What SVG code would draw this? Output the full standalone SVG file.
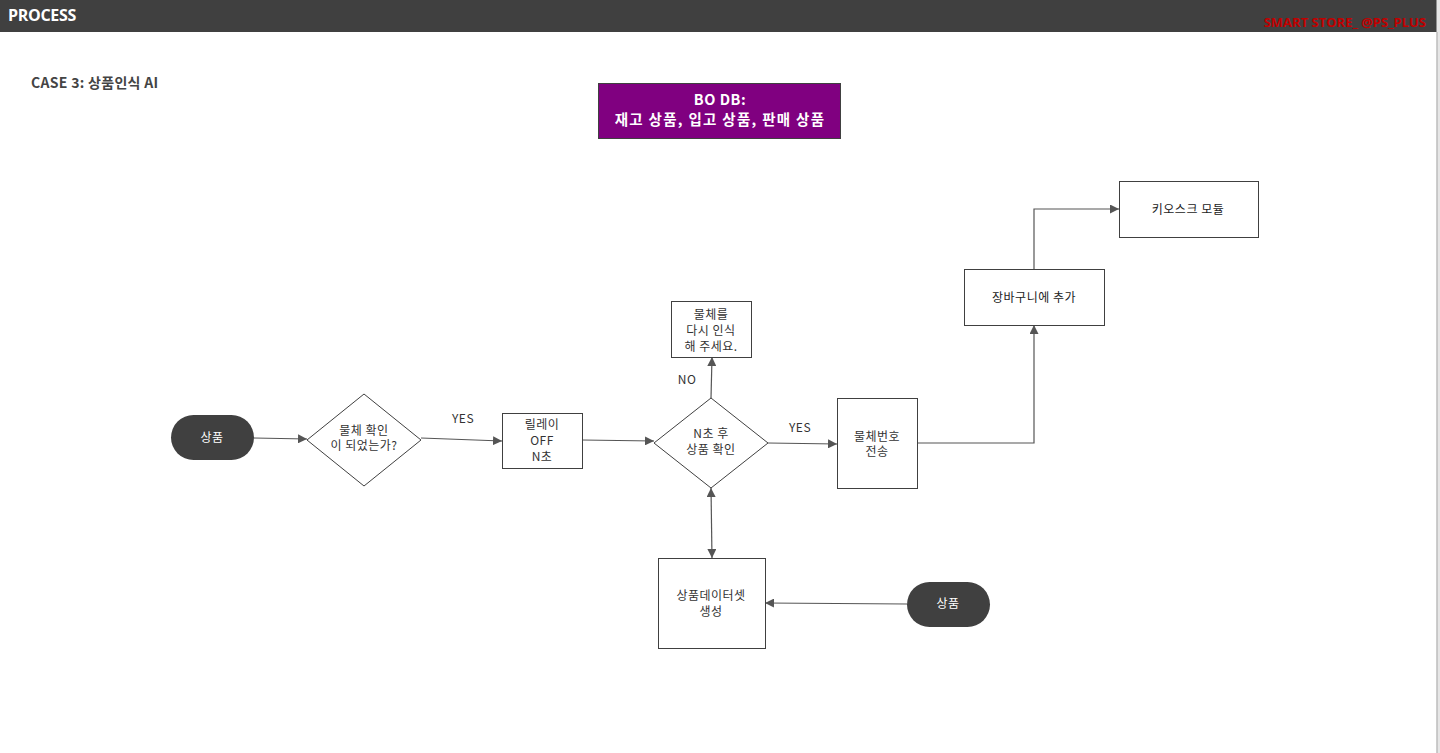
<svg xmlns="http://www.w3.org/2000/svg" width="1440" height="753" viewBox="0 0 1440 753">
<defs>
<style>
.t{font-family:"Noto Sans CJK KR","Noto Sans",sans-serif;font-size:12px;fill:#333;text-anchor:middle;letter-spacing:0.5px}
.w{fill:#fff}
.b{font-weight:bold}
.d{fill:#222}
.box{fill:#fff;stroke:#404040;stroke-width:1}
.term{fill:#404040}
.c{fill:none;stroke:#555;stroke-width:1.2}
</style>
<marker id="ah" viewBox="0 0 10 10" refX="10" refY="5" markerWidth="9" markerHeight="9" markerUnits="userSpaceOnUse" orient="auto-start-reverse">
<path d="M0,0 L10,5 L0,10 Z" fill="#555"/>
</marker>
</defs>
<rect x="0" y="0" width="1440" height="753" fill="#fff"/>
<g id="header">
<rect x="0" y="0" width="1437" height="32" fill="#404040"/>
<text x="8" y="21" font-family="'Open Sans','Noto Sans',sans-serif" font-size="16" font-weight="bold" fill="#fff" letter-spacing="-0.3">PROCESS</text>
<text x="1426" y="27" font-family="'Open Sans','Noto Sans',sans-serif" font-size="13" font-weight="bold" fill="#c00000" text-anchor="end" letter-spacing="0">SMART STORE_ @PS_PLUS</text>
<rect x="1436.5" y="0" width="3.5" height="753" fill="#e6e6e6"/>
<line x1="1437" y1="32" x2="1437" y2="753" stroke="#a8a8a8" stroke-width="1"/>
</g>
<text x="31" y="88" font-family="'Noto Sans CJK KR','Noto Sans',sans-serif" font-size="14" font-weight="bold" fill="#444" letter-spacing="0.3">CASE 3: 상품인식 AI</text>
<g id="connectors">
<line class="c" x1="254" y1="438" x2="307" y2="439" marker-end="url(#ah)"/>
<line class="c" x1="421" y1="438" x2="502" y2="441" marker-end="url(#ah)"/>
<line class="c" x1="582" y1="440" x2="654" y2="441" marker-end="url(#ah)"/>
<line class="c" x1="711" y1="398" x2="712" y2="357" marker-end="url(#ah)"/>
<line class="c" x1="768" y1="443" x2="837" y2="444" marker-end="url(#ah)"/>
<polyline class="c" points="917,443 1034,443 1034,325" marker-end="url(#ah)"/>
<polyline class="c" points="1034,269 1034,209 1119,209" marker-end="url(#ah)"/>
<line class="c" x1="711" y1="488" x2="712" y2="558" marker-start="url(#ah)" marker-end="url(#ah)"/>
<line class="c" x1="907" y1="604" x2="765" y2="603" marker-end="url(#ah)"/>
<text class="t" x="463" y="423">YES</text>
<text class="t" x="687" y="384">NO</text>
<text class="t" x="800" y="432">YES</text>
</g>
<g id="bodb">
<rect x="598.5" y="83.5" width="242" height="55" fill="#800080" stroke="#404040" stroke-width="1"/>
<text class="t w b" x="720" y="105" style="font-size:14.5px;letter-spacing:0.5px">BO DB:</text>
<text class="t w b" x="720" y="125" style="font-size:14.5px;letter-spacing:1.3px">재고 상품, 입고 상품, 판매 상품</text>
</g>
<g id="start1">
<rect class="term" x="171" y="415" width="83" height="45" rx="22.5"/>
<text class="t w" x="212" y="442">상품</text>
</g>
<g id="decision1">
<polygon class="box" points="364,394 421,440 364,486 307,440"/>
<text class="t" x="364" y="435">물체 확인</text>
<text class="t" x="364" y="450">이 되었는가?</text>
</g>
<g id="relay">
<rect class="box" x="502.5" y="413.5" width="80" height="55"/>
<text class="t" x="542" y="429">릴레이</text>
<text class="t" x="542" y="445">OFF</text>
<text class="t" x="542" y="461">N초</text>
</g>
<g id="decision2">
<polygon class="box" points="711,398 768,443 711,488 654,443"/>
<text class="t" x="711" y="438">N초 후</text>
<text class="t" x="711" y="454">상품 확인</text>
</g>
<g id="retry">
<rect class="box" x="671.5" y="301.5" width="80" height="56"/>
<text class="t" x="711" y="319">물체를</text>
<text class="t" x="711" y="335">다시 인식</text>
<text class="t" x="711" y="351">해 주세요.</text>
</g>
<g id="send">
<rect class="box" x="837.5" y="398.5" width="80" height="90"/>
<text class="t" x="877" y="441">물체번호</text>
<text class="t" x="877" y="456">전송</text>
</g>
<g id="cart">
<rect class="box" x="964.5" y="269.5" width="140" height="56"/>
<text class="t d" x="1034" y="302">장바구니에 추가</text>
</g>
<g id="kiosk">
<rect class="box" x="1119.5" y="181.5" width="139" height="56"/>
<text class="t d" x="1188" y="214">키오스크 모듈</text>
</g>
<g id="dataset">
<rect class="box" x="658.5" y="558.5" width="107" height="90"/>
<text class="t" x="711" y="600">상품데이터셋</text>
<text class="t" x="711" y="616">생성</text>
</g>
<g id="start2">
<rect class="term" x="907" y="582" width="83" height="45" rx="22.5"/>
<text class="t w" x="948" y="608">상품</text>
</g>
</svg>
